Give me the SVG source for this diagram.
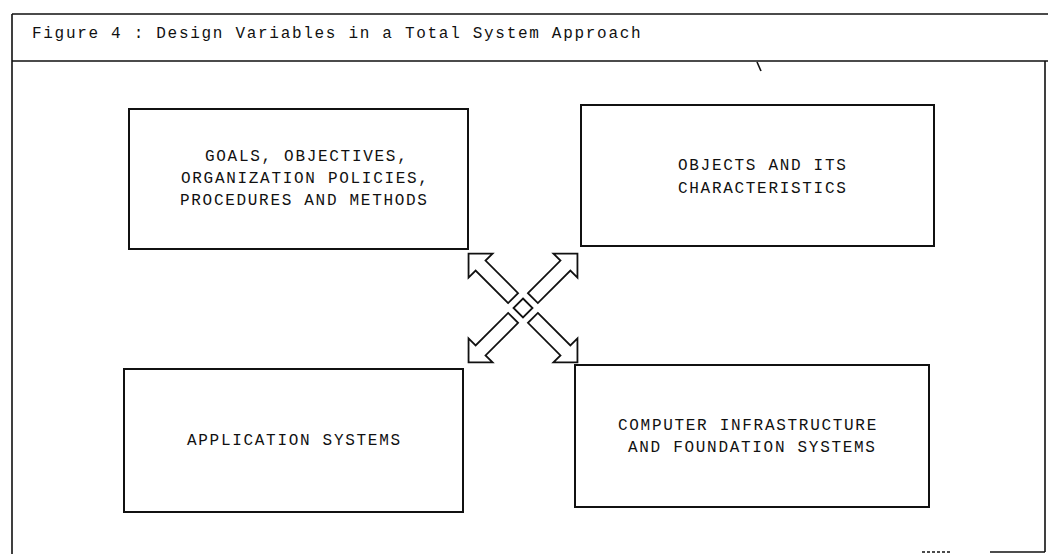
<svg xmlns="http://www.w3.org/2000/svg" width="1048" height="554" viewBox="0 0 1048 554">
<style>
.frame{fill:none;stroke:#111;stroke-width:1.6}
.box{fill:#fff;stroke:#111;stroke-width:2}
.arrow{fill:#fff;stroke:#111;stroke-width:1.8;stroke-linejoin:miter}
.t{font-family:"Liberation Mono","DejaVu Sans Mono",monospace;font-size:16px;letter-spacing:1.7px;fill:#111}
</style>
<rect width="1048" height="554" fill="#fff"/>
<g id="frame">
<path class="frame" d="M12 14 H1048 M12 61 H1048 M12 14 V554 M1045 61 V552"/>
<path class="frame" d="M922 552 H950" stroke-dasharray="3 2"/>
<path class="frame" d="M990 552 H1045"/>
<path class="frame" d="M757 62 L761 71" stroke-width="1.2"/>
<text class="t" x="32" y="38">Figure 4 : Design Variables in a Total System Approach</text>
</g>
<g id="node-goals">
<rect class="box" x="129" y="109" width="339" height="140"/>
<text class="t" x="205" y="161">GOALS, OBJECTIVES,</text>
<text class="t" x="181" y="183">ORGANIZATION POLICIES,</text>
<text class="t" x="180" y="205">PROCEDURES AND METHODS</text>
</g>
<g id="node-objects">
<rect class="box" x="581" y="105" width="353" height="141"/>
<text class="t" x="678" y="170">OBJECTS AND ITS</text>
<text class="t" x="678" y="193">CHARACTERISTICS</text>
</g>
<g id="node-application">
<rect class="box" x="124" y="369" width="339" height="143"/>
<text class="t" x="187" y="445">APPLICATION SYSTEMS</text>
</g>
<g id="node-infrastructure">
<rect class="box" x="575" y="365" width="354" height="142"/>
<text class="t" x="618" y="430">COMPUTER INFRASTRUCTURE</text>
<text class="t" x="628" y="452">AND FOUNDATION SYSTEMS</text>
</g>
<g id="connectors">
<defs>
<polygon id="blockArrow" points="14,-7 60,-7 60,-17 77,0 60,17 60,7 14,7"/>
</defs>
<polygon class="arrow" points="523,298.5 532.5,308 523,317.5 513.5,308"/>
<use href="#blockArrow" class="arrow" transform="translate(523 308) rotate(-135)"/>
<use href="#blockArrow" class="arrow" transform="translate(523 308) rotate(-45)"/>
<use href="#blockArrow" class="arrow" transform="translate(523 308) rotate(45)"/>
<use href="#blockArrow" class="arrow" transform="translate(523 308) rotate(135)"/>
</g>
</svg>
